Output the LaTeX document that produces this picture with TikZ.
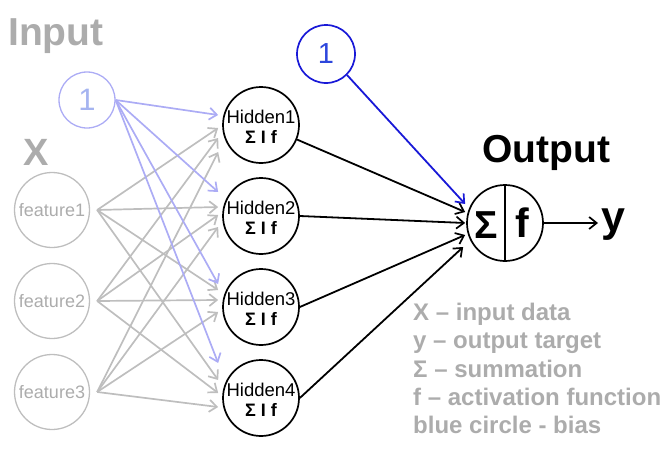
\documentclass[tikz,border=0pt]{standalone}
\usepackage{fontspec}
\setmainfont{Liberation Sans}
\usetikzlibrary{arrows.meta,calc}
\definecolor{lgray}{RGB}{190,190,190}
\definecolor{tgray}{RGB}{172,172,172}
\definecolor{lblue}{RGB}{172,172,245}
\definecolor{lbluetxt}{RGB}{165,180,240}
\definecolor{dblue}{RGB}{25,25,215}
\definecolor{dbluetxt}{RGB}{45,70,220}
\begin{document}
\begin{tikzpicture}[x=1pt,y=-1pt,
  feat/.style={circle,draw=lgray,line width=1.3pt,minimum size=75pt,inner sep=0pt,text=tgray,font=\fontsize{18}{20}\selectfont},
  hid/.style={circle,draw=black,line width=1.7pt,minimum size=76pt,inner sep=0pt},
  hidtxt/.style={align=center,inner sep=0pt,font=\fontsize{18.5}{20}\selectfont},
  tip/.style={-{Straight Barb[length=7.5pt,width=12pt,line width=1.7pt]}},
  garrow/.style={draw=lgray,line width=1.7pt,tip},
  barrow/.style={draw=lblue,line width=1.7pt,tip},
  karrow/.style={draw=black,line width=1.8pt,tip},
  title/.style={anchor=base west,inner sep=0pt,font=\fontsize{39}{44}\selectfont\bfseries},
  legend/.style={anchor=base west,inner sep=0pt,text=tgray,font=\fontsize{24}{28}\selectfont\bfseries}
]
\useasboundingbox (0,0) rectangle (672,474);

% titles
\node[title,text=tgray] (tin) at (8,45) {Input};
\node[title,text=tgray,font=\fontsize{38}{44}\selectfont\bfseries] (tx) at (23,165) {X};
\node[title] (tout) at (482,162) {Output};

% bias nodes
\node[circle,draw=lblue,line width=1.3pt,minimum size=56pt,inner sep=0pt,text=lbluetxt,font=\fontsize{31}{34}\selectfont] (b1) at (87,100) {1};
\node[circle,draw=dblue,line width=1.7pt,minimum size=58pt,inner sep=0pt,text=dbluetxt,font=\fontsize{29}{32}\selectfont] (b2) at (326,54) {1};

% features
\node[feat] (f1) at (52,210) {feature1};
\node[feat] (f2) at (52,301) {feature2};
\node[feat] (f3) at (52,392) {feature3};

% hidden
\foreach \i/\y in {1/125,2/216,3/307,4/398}{
  \node[hid] (h\i) at (261,\y) {};
  \node[hidtxt] (h\i t) at (261,\y+2) {Hidden\i\\{\fontsize{18}{20}\selectfont\bfseries Σ I f}};
}

% output
\node[hid] (o) at (505,223) {};
\draw[line width=1.7pt] (o.north) -- (o.south);
\node[inner sep=0pt,font=\fontsize{39}{40}\selectfont\bfseries] (sig) at (486,225) {Σ};
\node[inner sep=0pt,font=\fontsize{41}{40}\selectfont\bfseries] (fl) at (522,223) {f};
\node[anchor=base west,inner sep=0pt,font=\fontsize{43}{44}\selectfont\bfseries] (yl) at (601,231) {y};

% feature -> hidden (gray)
\foreach \h/\a/\b/\c in {1/3/13/27, 2/-9/-1/11, 3/-17/-7/5, 4/-18/-5/9}{
  \draw[garrow] ($(f1.east)+(7,0)$) -- ($(h\h.west)+(-4,\a)$);
  \draw[garrow] ($(f2.east)+(7,0)$) -- ($(h\h.west)+(-4,\b)$);
  \draw[garrow] ($(f3.east)+(7,0)$) -- ($(h\h.west)+(-4,\c)$);
}

% bias -> hidden (light blue)
\foreach \h/\a in {1/-10, 2/-24, 3/-23, 4/-35}{
  \draw[barrow] (b1.east) -- ($(h\h.west)+(-4,\a)$);
}

% hidden -> output
\draw[karrow] (h1.-22) -- ($(o.west)+(-1,-11)$);
\draw[karrow] (h2.east) -- ($(o.west)+(-1,0)$);
\draw[karrow] (h3.east) -- ($(o.west)+(-1,12)$);
\draw[karrow] (h4.east) -- ($(o.west)+(-3,24)$);
\draw[karrow,draw=dblue] (b2.-45) -- ($(o.west)+(-1,-19)$);

% output -> y
\draw[karrow,shorten >=3pt] (o.east) -- (yl.west |- o.east);

% legend
\node[legend] (l1) at (413,320) {X – input data};
\node[legend] (l2) at (413,348) {y – output target};
\node[legend] (l3) at (413,377) {Σ – summation};
\node[legend] (l4) at (413,405) {f – activation function};
\node[legend] (l5) at (413,433) {blue circle - bias};
\end{tikzpicture}
\end{document}
